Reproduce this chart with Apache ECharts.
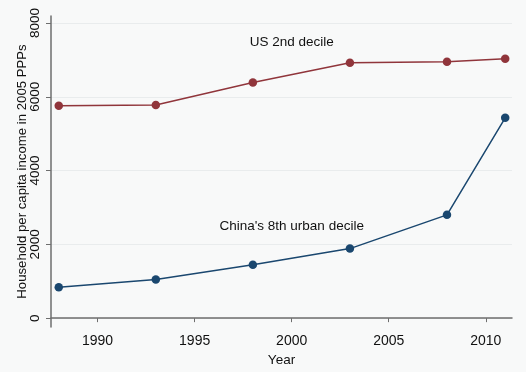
<!DOCTYPE html>
<html>
<head>
<meta charset="utf-8">
<script src="https://cdn.jsdelivr.net/npm/echarts@6/dist/echarts.min.js"></script>
<style>
html,body{margin:0;padding:0;background:#f8f9f9;}
#c{width:526px;height:372px;}
</style>
</head>
<body>
<div id="c"></div>
<script>
var years = [1988, 1993, 1998, 2003, 2008, 2011];
var usValues = [5760, 5775, 6390, 6925, 6950, 7030];
var chinaValues = [840, 1050, 1445, 1885, 2800, 5430];
var yTicks = [0, 2000, 4000, 6000, 8000];
var xTicks = [1990, 1995, 2000, 2005, 2010];
var usLabel = 'US 2nd decile';
var chinaLabel = "China's 8th urban decile";

function pairs(xs, ys){ return xs.map(function(x,i){ return [x, ys[i]]; }); }

var font = 'Liberation Sans, Arial, sans-serif';
var chart = echarts.init(document.getElementById('c'), null, {renderer:'canvas'});
chart.setOption({
  backgroundColor: '#f8f9f9',
  animation: false,
  grid: {left: 51, right: 14, top: 16, bottom: 38, containLabel: false},
  xAxis: {
    type: 'value', min: 1987.6, max: 2011.35,
    name: 'Year', nameLocation: 'middle', nameGap: 26, nameMoveOverlap: false,
    nameTextStyle: {color: '#111', fontSize: 13.5, fontFamily: font},
    axisLine: {show: true, lineStyle: {color: '#6e6e6e', width: 1.5}},
    axisTick: {show: true, length: 4, customValues: xTicks, lineStyle: {color: '#6e6e6e'}},
    axisLabel: {customValues: xTicks, formatter: function(v){ return String(v); }, color: '#111', fontSize: 14, fontFamily: font, margin: 7},
    splitLine: {show: false}
  },
  yAxis: {
    type: 'value', min: -240, max: 8190,
    name: 'Household per capita income in 2005 PPPs', nameLocation: 'middle', nameGap: 29, nameMoveOverlap: false,
    nameTextStyle: {color: '#111', fontSize: 13.2, fontFamily: font, verticalAlign: 'middle'},
    axisLine: {show: true, lineStyle: {color: '#6e6e6e', width: 1.5}},
    axisTick: {show: true, length: 5, customValues: yTicks, lineStyle: {color: '#6e6e6e'}},
    axisLabel: {customValues: yTicks, formatter: function(v){ return String(v); }, rotate: 90, color: '#111', fontSize: 13.5, fontFamily: font, margin: 9},
    splitLine: {show: true, lineStyle: {color: '#e9eced', width: 1}}
  },
  series: [
    {
      type: 'line', data: pairs(years, usValues),
      symbol: 'circle', symbolSize: 8.5,
      itemStyle: {color: '#90353b'},
      lineStyle: {color: '#90353b', width: 1.5},
      markPoint: {
        symbol: 'circle', symbolSize: 0,
        label: {show: true, formatter: usLabel, color: '#111', fontSize: 13.5, fontFamily: font},
        data: [{coord: [2000, 7480], value: 0}]
      }
    },
    {
      type: 'line', data: pairs(years, chinaValues),
      symbol: 'circle', symbolSize: 8.5,
      itemStyle: {color: '#1a476f'},
      lineStyle: {color: '#1a476f', width: 1.5},
      markPoint: {
        symbol: 'circle', symbolSize: 0,
        label: {show: true, formatter: chinaLabel, color: '#111', fontSize: 13.5, fontFamily: font},
        data: [{coord: [2000, 2480], value: 0}]
      }
    }
  ]
});
</script>
</body>
</html>
